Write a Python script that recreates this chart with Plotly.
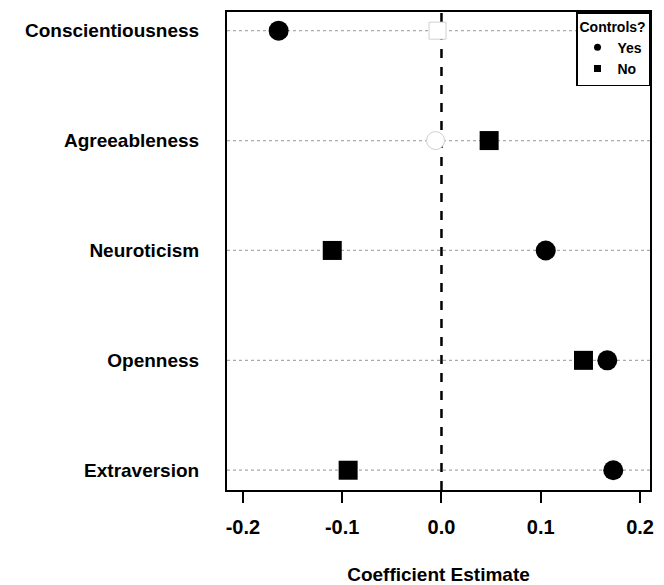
import plotly.graph_objects as go

categories = ["Extraversion", "Openness", "Neuroticism", "Agreeableness", "Conscientiousness"]
yes_values = [0.173, 0.167, 0.105, -0.006, -0.164]
no_values = [-0.094, 0.143, -0.110, 0.048, -0.004]
x_ticks = [-0.2, -0.1, 0.0, 0.1, 0.2]
x_tick_labels = ["-0.2", "-0.1", "0.0", "0.1", "0.2"]

ypos = list(range(1, len(categories) + 1))

FONT = "Liberation Sans, Arial, sans-serif"
FAINT = 0.01

fig = go.Figure()

def faint_pts(vals):
    return [(v, y) for v, y in zip(vals, ypos) if abs(v) < FAINT]

def solid(vals):
    return [None if abs(v) < FAINT else v for v in vals]

fy = faint_pts(yes_values)
fn = faint_pts(no_values)

# washed-out markers near zero (as in the scanned reference)
fig.add_trace(go.Scatter(
    x=[v for v, _ in fy], y=[y for _, y in fy], mode="markers",
    marker=dict(symbol="circle", size=18, color="white",
                line=dict(color="#d0d0d0", width=1)),
    showlegend=False, hoverinfo="skip"))
fig.add_trace(go.Scatter(
    x=[v for v, _ in fn], y=[y for _, y in fn], mode="markers",
    marker=dict(symbol="square", size=17, color="white",
                line=dict(color="#d0d0d0", width=1)),
    showlegend=False, hoverinfo="skip"))

fig.add_trace(go.Scatter(
    x=solid(yes_values), y=ypos, mode="markers", name="Yes",
    marker=dict(symbol="circle", size=20, color="black"), showlegend=False))
fig.add_trace(go.Scatter(
    x=solid(no_values), y=ypos, mode="markers", name="No",
    marker=dict(symbol="square", size=19, color="black"), showlegend=False))

# legend proxies with small symbols
fig.add_trace(go.Scatter(x=[None], y=[None], mode="markers", name="<b>Yes</b>",
                         marker=dict(symbol="circle", size=7, color="black")))
fig.add_trace(go.Scatter(x=[None], y=[None], mode="markers", name="<b>No</b>",
                         marker=dict(symbol="square", size=7, color="black")))

shapes = []
for y in ypos:
    shapes.append(dict(type="line", xref="paper", yref="y", x0=0, x1=1, y0=y, y1=y,
                       line=dict(color="#aaaaaa", width=1.2, dash="dot"), layer="below"))
shapes.append(dict(type="line", xref="x", yref="paper", x0=0, x1=0, y0=0, y1=1,
                   line=dict(color="black", width=2.5, dash="dash"), layer="below"))

fig.update_layout(
    width=648, height=577,
    margin=dict(l=219, r=2, t=4, b=95),
    paper_bgcolor="white", plot_bgcolor="white",
    font=dict(family=FONT, color="black"),
    shapes=shapes,
    showlegend=True,
    legend=dict(
        x=1, y=1, xanchor="right", yanchor="top",
        bordercolor="black", borderwidth=1.5, bgcolor="white",
        title=dict(text="<b>Controls?</b>", font=dict(size=14, family=FONT), side="top"),
        font=dict(size=14, family=FONT),
        itemsizing="trace", itemwidth=30, tracegroupgap=0,
    ),
    xaxis=dict(
        range=[-0.216, 0.210],
        tickvals=x_ticks, ticktext=["<b>%s</b>" % t for t in x_tick_labels],
        ticks="outside", ticklen=11, tickwidth=2, tickcolor="black",
        tickfont=dict(size=20, family=FONT),
        ticklabelstandoff=7,
        showgrid=False, zeroline=False,
        showline=True, linecolor="black", linewidth=2, mirror=True,
        title=dict(text="<b>Coefficient Estimate</b>", font=dict(size=19, family=FONT), standoff=32),
    ),
    yaxis=dict(
        range=[0.82, 5.17],
        tickvals=ypos, ticktext=["<b>%s</b>" % c for c in categories],
        ticks="", ticklen=0,
        tickfont=dict(size=19, family=FONT),
        showgrid=False, zeroline=False,
        showline=True, linecolor="black", linewidth=2, mirror=True,
        ticklabelstandoff=22,
    ),
)

fig.write_html("out.html")
